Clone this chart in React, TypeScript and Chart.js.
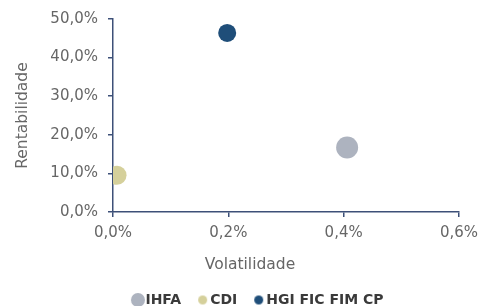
import React, { useEffect, useRef } from "react";
import { Chart, registerables } from "chart.js";

Chart.register(...registerables);

const seriesNames = ["IHFA", "CDI", "HGI FIC FIM CP"];
const volatility = [0.406, 0.007, 0.198];
const returns = [16.7, 9.5, 46.4];
const seriesColors = ["#adb3bf", "#d5d09b", "#1f4e79"];
const pointSizes = [11, 9.5, 9];
const legendDotSizes = [7, 4.5, 4.5];
const xTickValues = [0, 0.2, 0.4, 0.6];
const yTickValues = [0, 10, 20, 30, 40, 50];
const xTitle = "Volatilidade";
const yTitle = "Rentabilidade";

const FONT = "'DejaVu Sans', sans-serif";
const TEXT = "#666666";
const AXIS = "#3d5078";
const LEGEND_PAD = 21;
const LEGEND_FONT = 14;

const fmt = (v: number) => v.toFixed(1).replace(".", ",") + "%";

function makeDot(r: number, color: string) {
  const c = document.createElement("canvas");
  const s = Math.ceil(r * 2 + 2);
  c.width = s;
  c.height = s;
  const ctx = c.getContext("2d")!;
  ctx.fillStyle = color;
  ctx.beginPath();
  ctx.arc(s / 2, s / 2, r, 0, Math.PI * 2);
  ctx.fill();
  return c;
}

const legendPlace = {
  id: "legendPlace",
  afterLayout(chart: any) {
    const lg = chart.legend;
    if (!lg) return;
    const dx = 10.5;
    lg.left += dx;
    lg.right += dx;
    const h = lg.bottom - lg.top;
    const top = 292 - LEGEND_PAD - LEGEND_FONT / 2;
    lg.top = top;
    lg.bottom = top + h;
  },
};

export default function App() {
  const ref = useRef<HTMLCanvasElement>(null);
  useEffect(() => {
    document.body.style.overflow = "hidden";
    const dots = legendDotSizes.map((r, i) => makeDot(r, seriesColors[i]));
    const chart = new Chart(ref.current!, {
      type: "scatter",
      data: {
        datasets: seriesNames.map((name, i) => ({
          label: name,
          data: [{ x: volatility[i], y: returns[i] }],
          backgroundColor: seriesColors[i],
          borderColor: seriesColors[i],
          borderWidth: 0,
          pointRadius: pointSizes[i],
          pointHoverRadius: pointSizes[i],
        })),
      },
      plugins: [legendPlace],
      options: {
        responsive: false,
        animation: false,
        events: [],
        layout: { padding: { top: 10, right: 0, left: 10, bottom: 0 } },
        scales: {
          x: {
            type: "linear",
            min: 0,
            max: 0.6,
            afterBuildTicks: (s: any) => {
              s.ticks = xTickValues.map((v) => ({ value: v }));
            },
            afterFit: (s: any) => {
              s.height = 36;
              s.paddingLeft = 0;
              s.paddingRight = 23;
            },
            ticks: {
              callback: (v: any) => fmt(Number(v)),
              font: { family: FONT, size: 15 },
              color: TEXT,
              padding: 7,
              maxRotation: 0,
            },
            grid: {
              display: true,
              drawOnChartArea: false,
              drawTicks: true,
              tickLength: 5,
              color: AXIS,
              lineWidth: 1.5,
            },
            border: { display: true, color: AXIS, width: 1.5 },
          },
          y: {
            type: "linear",
            min: 0,
            max: 50,
            afterBuildTicks: (s: any) => {
              s.ticks = yTickValues.map((v) => ({ value: v }));
            },
            afterFit: (s: any) => {
              s.width = 95;
              s.paddingTop = 0;
              s.paddingBottom = 0;
            },
            ticks: {
              callback: (v: any) => fmt(Number(v)),
              font: { family: FONT, size: 15 },
              color: TEXT,
              padding: 10,
            },
            grid: {
              display: true,
              drawOnChartArea: false,
              drawTicks: true,
              tickLength: 5,
              color: AXIS,
              lineWidth: 1.5,
            },
            border: { display: true, color: AXIS, width: 1.5 },
            title: {
              display: true,
              text: yTitle,
              font: { family: FONT, size: 15.5 },
              color: TEXT,
              padding: { top: -4, bottom: 0 },
            },
          },
        },
        plugins: {
          tooltip: { enabled: false },
          title: {
            display: true,
            text: xTitle,
            position: "bottom",
            weight: 500,
            font: { family: FONT, size: 15.5, weight: "normal" },
            color: TEXT,
            padding: { top: 8, bottom: 2.4 },
          } as any,
          legend: {
            display: true,
            position: "bottom",
            maxHeight: 40,
            labels: {
              usePointStyle: true,
              boxWidth: 1,
              padding: LEGEND_PAD,
              font: { family: FONT, size: LEGEND_FONT, weight: "bold" },
              color: "#3a3a3a",
              generateLabels: (c: any) =>
                c.data.datasets.map((ds: any, i: number) => ({
                  text: ds.label,
                  fillStyle: seriesColors[i],
                  strokeStyle: seriesColors[i],
                  lineWidth: 0,
                  pointStyle: dots[i],
                  hidden: false,
                  datasetIndex: i,
                  fontColor: "#3a3a3a",
                })),
            },
          },
        },
      },
    });
    return () => chart.destroy();
  }, []);
  return <canvas ref={ref} width={474} height={309} style={{ display: "block" }} />;
}
